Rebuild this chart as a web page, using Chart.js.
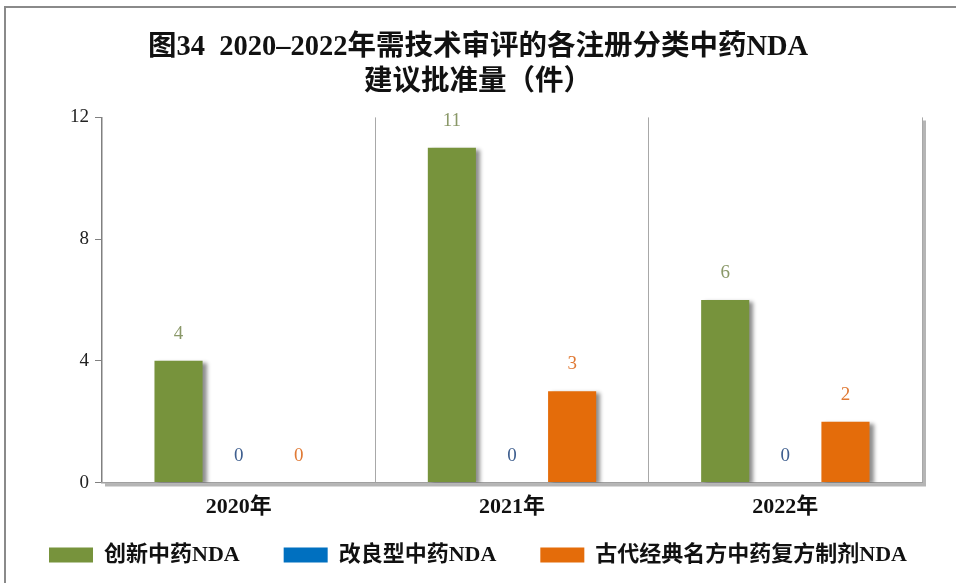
<!DOCTYPE html>
<html>
<head>
<meta charset="utf-8">
<script src="https://cdn.jsdelivr.net/npm/chart.js@4.4.1/dist/chart.umd.min.js"></script>
<style>
  body { margin: 0; background: #fff; }
  #wrap { position: relative; width: 956px; height: 583px; }
  #frame { position: absolute; left: 4px; top: 6px; right: -10px; bottom: -10px;
           border-left: 2px solid #8a8a8a; border-top: 2px solid #8a8a8a; pointer-events: none; }
</style>
</head>
<body>
<div id="wrap">
  <canvas id="chart" width="956" height="583"></canvas>
  <div id="frame"></div>
</div>
<script>
const years = ['2020年', '2021年', '2022年'];
const innovative = [4, 11, 6];
const improved = [0, 0, 0];
const classical = [0, 3, 2];
const seriesNames = ['创新中药NDA', '改良型中药NDA', '古代经典名方中药复方制剂NDA'];
const yTicks = [0, 4, 8, 12];

const SERIF = "'Liberation Serif', 'Noto Sans CJK SC', serif";

const barColors = ['#77933C', '#0070C0', '#E46C0A'];
const labelColors = ['#8a9868', '#3f5f8f', '#e07a35'];

// shadow under bars + frame shadow on right / bottom edge, then value labels
const shadowPlugin = {
    id: 'shadows',
    beforeDatasetsDraw(chart) {
        const { ctx, chartArea: a } = chart;
        ctx.save();
        ctx.strokeStyle = 'rgba(120,120,120,0.55)';
        ctx.lineWidth = 3;
        ctx.beginPath();
        ctx.moveTo(a.right + 2.5, a.top + 3);
        ctx.lineTo(a.right + 2.5, a.bottom + 2.5);
        ctx.lineTo(a.left + 3, a.bottom + 2.5);
        ctx.stroke();
        ctx.restore();
        ctx.save();
        ctx.shadowColor = 'rgba(0,0,0,0.45)';
        ctx.shadowBlur = 4;
        ctx.shadowOffsetX = 4;
        ctx.shadowOffsetY = 2;
    },
    afterDatasetsDraw(chart) {
        const { ctx } = chart;
        ctx.restore();
        ctx.save();
        ctx.font = '19px ' + SERIF;
        ctx.textAlign = 'center';
        ctx.textBaseline = 'middle';
        chart.data.datasets.forEach((ds, i) => {
            chart.getDatasetMeta(i).data.forEach((bar, j) => {
                ctx.fillStyle = labelColors[i];
                ctx.fillText(ds.data[j], bar.x, bar.y - 27);
            });
        });
        ctx.restore();
    }
};

const ctx = document.getElementById('chart').getContext('2d');
new Chart(ctx, {
    type: 'bar',
    data: {
        labels: years,
        datasets: [innovative, improved, classical].map((d, i) => ({
            label: seriesNames[i],
            data: d,
            backgroundColor: barColors[i],
            barPercentage: 0.8,
            categoryPercentage: 0.66
        }))
    },
    options: {
        responsive: false,
        animation: false,
        layout: { padding: { left: 0, right: 0, bottom: 7 } },
        plugins: {
            title: {
                display: true,
                text: ['图34  2020–2022年需技术审评的各注册分类中药NDA', '建议批准量（件）'],
                font: { family: SERIF, size: 28.5, weight: 'bold', lineHeight: 1.2 },
                color: '#111',
                padding: { top: 31, bottom: 18 }
            },
            legend: {
                position: 'bottom',
                labels: {
                    font: { family: SERIF, size: 22, weight: 'bold' },
                    color: '#111',
                    boxWidth: 44,
                    boxHeight: 15,
                    padding: 11,
                    generateLabels: chart => {
                        const items = Chart.defaults.plugins.legend.labels.generateLabels(chart);
                        items.forEach((it, i) => {
                            if (i < items.length - 1) it.text += '      ';
                        });
                        return items;
                    }
                }
            },
            tooltip: { enabled: false }
        },
        scales: {
            y: {
                min: 0,
                max: 12,
                afterFit: s => { s.width = 102; },
                afterBuildTicks: s => { s.ticks = yTicks.map(v => ({ value: v })); },
                border: { color: '#808080', width: 1.5 },
                grid: { drawOnChartArea: false, tickLength: 7, color: '#808080' },
                ticks: { font: { family: SERIF, size: 19 }, color: '#222', padding: 6 }
            },
            yRight: {
                position: 'right',
                afterFit: s => { s.width = 34; },
                border: { display: false },
                grid: { display: false },
                ticks: { display: false }
            },
            x: {
                border: { color: '#a0a0a0', width: 1.5 },
                grid: { offset: true, color: '#a8a8a8', drawTicks: false },
                ticks: { font: { family: SERIF, size: 22, weight: 'bold' }, color: '#111', padding: 12 }
            }
        }
    },
    plugins: [shadowPlugin]
});
</script>
</body>
</html>
